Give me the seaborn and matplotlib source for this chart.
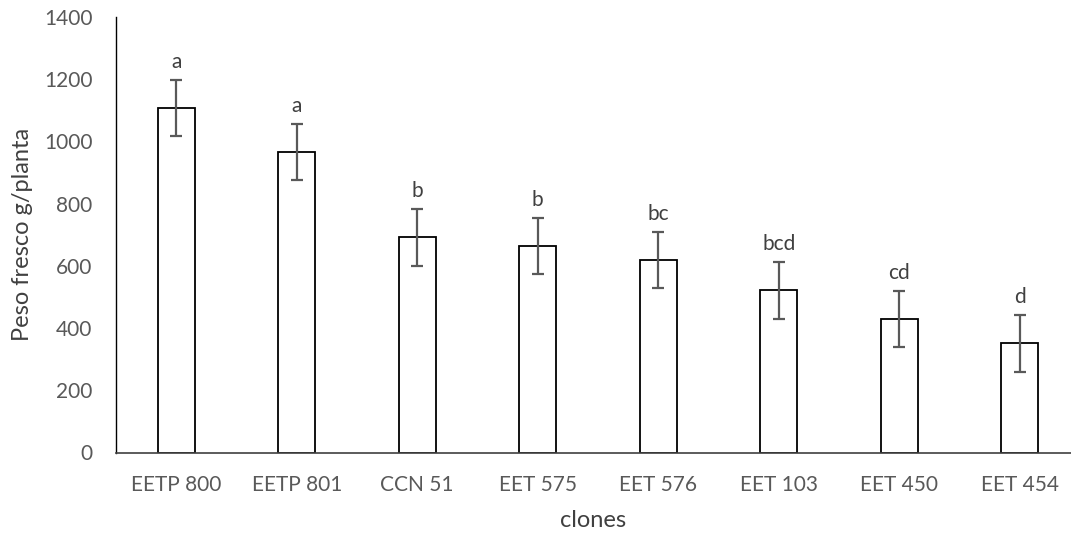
import numpy as np
import pandas as pd
import seaborn as sns
import matplotlib.pyplot as plt

clones = ["EETP 800", "EETP 801", "CCN 51", "EET 575", "EET 576", "EET 103", "EET 450", "EET 454"]
peso = [1108, 966, 692, 664, 619, 521, 429, 351]
error = [91, 91, 91, 91, 91, 91, 91, 91]
letras = ["a", "a", "b", "b", "bc", "bcd", "cd", "d"]

df = pd.DataFrame({"clones": clones, "peso": peso})

sns.set_style("white")
plt.rcParams['font.family'] = ['Lato', 'DejaVu Sans']
gris = "#595959"

fig = plt.figure(figsize=(10.71, 5.35), dpi=100)
ax = fig.add_axes([116/1071, 1 - 452.5/535, (1071 - 116)/1071, (452.5 - 17)/535])

sns.barplot(data=df, x="clones", y="peso", ax=ax, color="white",
            edgecolor="black", linewidth=1.3, width=0.31, errorbar=None)

pos = np.arange(len(clones))
ax.errorbar(pos, peso, yerr=error, fmt="none", ecolor=gris, elinewidth=1.6,
            capsize=4, capthick=1.6)

for p, v, e, l in zip(pos, peso, error, letras):
    ax.annotate(l, (p, v + e), xytext=(0, 5.5), textcoords="offset points",
                ha="center", va="bottom", fontsize=15, color="#404040")

ax.set_ylim(0, 1400)
ax.set_yticks(range(0, 1401, 200))
ax.set_xlim(-0.5, -0.5 + (1071 - 116) / 120.5)

ax.set_xlabel("clones", fontsize=17, color="#404040")
ax.set_ylabel("Peso fresco g/planta", fontsize=17, color="#404040")
ax.xaxis.label.set_va("center")
ax.yaxis.label.set_va("center")
ax.xaxis.set_label_coords(0.5, -0.155)
ax.yaxis.set_label_coords(-0.098, 0.5)
ax.tick_params(axis="both", length=0, labelsize=15, labelcolor=gris)
ax.tick_params(axis="x", pad=16)
ax.tick_params(axis="y", pad=17)

sns.despine(ax=ax, top=True, right=True)
ax.spines["left"].set_color("black")
ax.spines["left"].set_linewidth(1.0)
ax.spines["bottom"].set_color("#404040")
ax.spines["bottom"].set_linewidth(1.2)

fig.savefig("out.png", dpi=100)
